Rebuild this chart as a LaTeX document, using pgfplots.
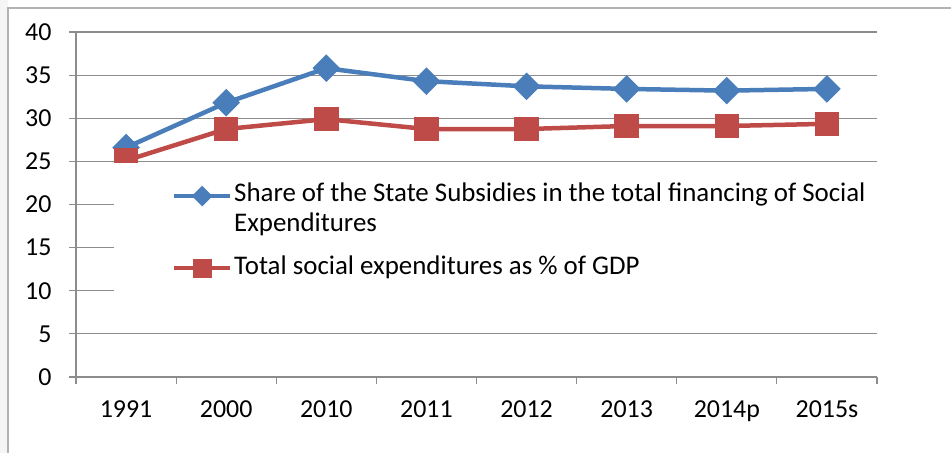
\documentclass[border=0pt]{standalone}
\usepackage{pgfplots}
\pgfplotsset{compat=1.18}
\usepackage{fontspec}
\setmainfont{Carlito}
\definecolor{exblue}{HTML}{4A7EBB}
\definecolor{exred}{HTML}{BE4B48}
\definecolor{gridgray}{HTML}{8C8C8C}
\begin{document}
\begin{tikzpicture}[x=1bp,y=1bp]
\useasboundingbox (0,0) rectangle (951,453);
\fill[black!4] (0,0) rectangle (8,453);
\draw[gray!60, line width=1.5bp] (8,0) -- (8,445) -- (951,445);
\begin{axis}[
  at={(76bp,76bp)}, anchor=south west,
  scale only axis, width=801bp, height=345bp,
  xmin=0.5, xmax=8.5, ymin=0, ymax=40,
  ytick={0,5,...,40},
  xtick={0.5,1.5,...,8.5},
  x tick label as interval,
  xticklabels={1991,2000,2010,2011,2012,2013,2014p,2015s},
  axis x line*=bottom, axis y line*=left,
  axis line style={gridgray, line width=1.2bp},
  tick align=outside,
  major tick length=7bp,
  tick style={gridgray, line width=1.2bp},
  ymajorgrids,
  grid style={gridgray, line width=1.2bp},
  /pgf/number format/assume math mode=true,
  ticklabel style={font=\fontsize{26}{30}\selectfont, text=black},
  xticklabel style={yshift=-13bp},
  yticklabel style={xshift=-14bp},
  legend cell align=left,
  legend style={at={(0.0474,0.6195)}, anchor=north west, draw=none, fill=white,
    font=\fontsize{27}{30}\selectfont, cells={align=left, anchor=base west},
    inner xsep=58bp, inner ysep=17bp, row sep=19bp},
  legend image code/.code={\draw[mark repeat=2,mark phase=2,#1] plot coordinates {(0bp,6bp) (28bp,6bp) (56bp,6bp)};},
]
\addplot[exblue, line width=4.5bp, mark=square*, mark size=7.5bp, mark options={rotate=45, solid},
  legend image post style={line width=4bp, mark size=5.3bp, yshift=29bp}]
  coordinates {(1,26.6) (2,31.8) (3,35.8) (4,34.3) (5,33.7) (6,33.4) (7,33.2) (8,33.4)};
\addlegendentry{Share of the State Subsidies in the total financing of Social\\Expenditures}
\addplot[exred, line width=4.5bp, mark=square*, mark size=10bp, mark options={solid},
  legend image post style={line width=4bp, mark size=7.5bp}]
  coordinates {(1,25.1) (2,28.75) (3,29.9) (4,28.75) (5,28.75) (6,29.1) (7,29.1) (8,29.35)};
\addlegendentry{Total social expenditures as \% of GDP}
\end{axis}
\end{tikzpicture}
\end{document}
